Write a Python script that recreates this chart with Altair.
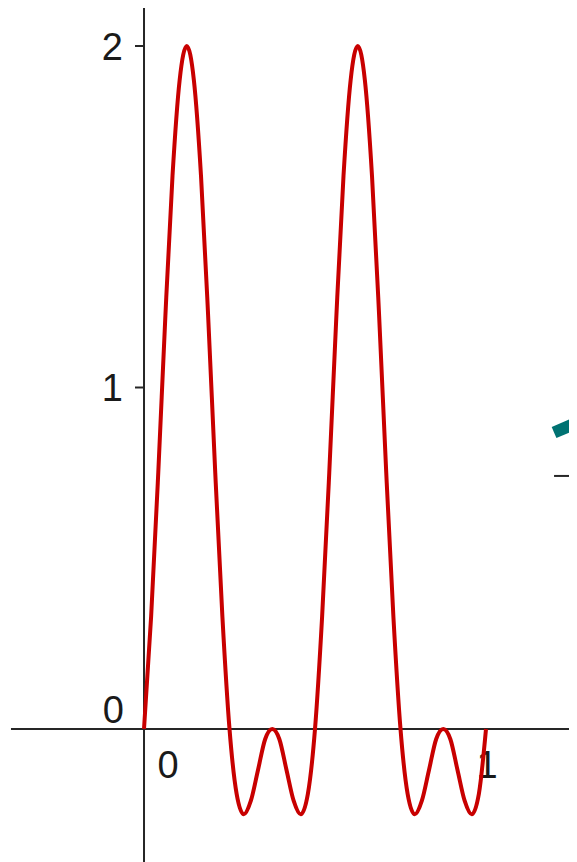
import altair as alt
import pandas as pd

# curve samples (x step 1/48)
xs = [i / 48 for i in range(49)]
ys = [0.00, 0.33, 0.75, 1.21, 1.62, 1.90, 2.00, 1.90, 1.62, 1.21, 0.75, 0.33,
      0.00, -0.19, -0.25, -0.21, -0.12, -0.03, 0.00, -0.03, -0.12, -0.21, -0.25, -0.19,
      0.00, 0.33, 0.75, 1.21, 1.62, 1.90, 2.00, 1.90, 1.62, 1.21, 0.75, 0.33,
      0.00, -0.19, -0.25, -0.21, -0.12, -0.03, 0.00, -0.03, -0.12, -0.21, -0.25, -0.19,
      0.00]

y_ticks = [1, 2]
y_tick_labels = ["1", "2"]
x_tick_values = [0, 1]
x_tick_labels = ["0", "1"]

# cut-off object at the right edge
teal_x = [1.199, 1.25]
teal_y = [0.868, 0.89]
under_x = [1.199, 1.25]
under_y = [0.741, 0.741]

X_DOM = [-0.3977, 1.2427]
Y_DOM = [-0.3895, 2.1113]

def sx():
    return alt.Scale(domain=X_DOM, nice=False, zero=False)

def sy():
    return alt.Scale(domain=Y_DOM, nice=False, zero=False)

curve = pd.DataFrame({"x": xs, "y": ys})
yt = pd.DataFrame({"x": [0.0] * len(y_ticks), "y": y_ticks, "t": y_tick_labels})
xt0 = pd.DataFrame({"x": x_tick_values[:1], "y": [0.0], "t": x_tick_labels[:1]})
xt1 = pd.DataFrame({"x": x_tick_values[1:], "y": [0.0], "t": x_tick_labels[1:]})
orig = pd.DataFrame({"x": [0.0], "y": [0.0], "t": ["0"]})
teal = pd.DataFrame({"x": teal_x, "y": teal_y})
under = pd.DataFrame({"x": under_x, "y": under_y})
xaxis_df = pd.DataFrame({"x": [-0.389], "x2": [X_DOM[1]], "y": [0.0]})
yaxis_df = pd.DataFrame({"y": [Y_DOM[0]], "y2": [Y_DOM[1]], "x": [0.0]})

AX = "#262626"
FONT = "Liberation Sans"
TXT = "#1a1a1a"

X = lambda f="x": alt.X(f"{f}:Q", scale=sx(), axis=None)
Y = lambda f="y": alt.Y(f"{f}:Q", scale=sy(), axis=None)

x_axis = alt.Chart(xaxis_df).mark_rule(color=AX, strokeWidth=2).encode(
    x=X(), x2="x2:Q", y=Y())
y_axis = alt.Chart(yaxis_df).mark_rule(color=AX, strokeWidth=2).encode(
    x=X(), y=Y(), y2="y2:Q")

y_tick_marks = alt.Chart(yt).mark_rule(color=AX, strokeWidth=2, x2Offset=-9).encode(
    x=X(), x2="x:Q", y=Y())

y_labels = alt.Chart(yt).mark_text(font=FONT, fontSize=38, color=TXT, align="right",
                                   baseline="middle", dx=-21, dy=3).encode(
    x=X(), y=Y(), text="t:N")

origin_label = alt.Chart(orig).mark_text(
    font=FONT, fontSize=38, color=TXT, align="right", baseline="bottom", dx=-20, dy=2).encode(
    x=X(), y=Y(), text="t:N")

x_label0 = alt.Chart(xt0).mark_text(font=FONT, fontSize=38, color=TXT, align="center",
                                    baseline="top", dy=19, dx=24).encode(
    x=X(), y=Y(), text="t:N")
x_label1 = alt.Chart(xt1).mark_text(font=FONT, fontSize=38, color=TXT, align="center",
                                    baseline="top", dy=19, dx=1).encode(
    x=X(), y=Y(), text="t:N")

teal_mark = alt.Chart(teal).mark_line(color="#007272", strokeWidth=12).encode(x=X(), y=Y())
under_mark = alt.Chart(under).mark_line(color=AX, strokeWidth=2).encode(x=X(), y=Y())

line = alt.Chart(curve).mark_line(color="#c80000", strokeWidth=4, interpolate="monotone").encode(
    x=X(), y=Y())

chart = alt.layer(
    x_axis, y_axis, y_tick_marks, y_labels, origin_label, x_label0, x_label1,
    teal_mark, under_mark, line
).properties(
    width=561, height=854, padding=0,
    autosize=alt.AutoSizeParams(type="none")
).configure_view(stroke=None)

chart.save("out.html", embed_options={"renderer": "svg", "actions": False})
